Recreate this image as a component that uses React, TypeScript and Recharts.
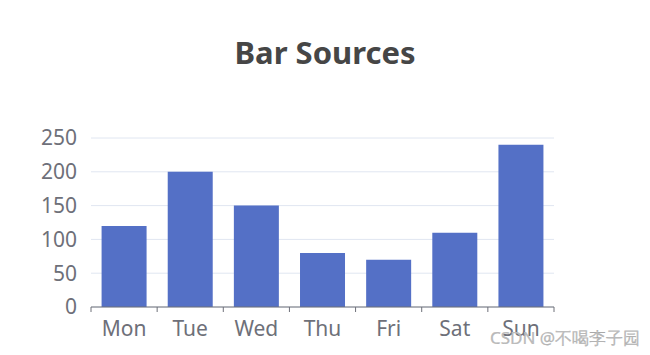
import React from 'react';
import { BarChart, Bar, XAxis, YAxis, CartesianGrid } from 'recharts';

const days = ['Mon', 'Tue', 'Wed', 'Thu', 'Fri', 'Sat', 'Sun'];
const sales = [120, 200, 150, 80, 70, 110, 240];
const yTicks = [0, 50, 100, 150, 200, 250];

const data = days.map((day, i) => ({ day, value: sales[i] }));

const W = 650;
const H = 355;
const margin = { top: 138, right: 96, bottom: 0, left: 0 };
const yAxisWidth = 91;
const plotWidth = W - margin.left - margin.right - yAxisWidth;
const band = plotWidth / days.length;
const axisColor = '#6e7079';
const font = '"Noto Sans", sans-serif';

// ticks sit on the category boundaries, like echarts
const BoundaryTick = (props: any) => {
  const { x, y, payload, index } = props;
  const axisY = y - 14;
  const left = x - band / 2;
  return (
    <g>
      <line x1={left} x2={left} y1={axisY} y2={axisY + 5} stroke={axisColor} />
      {index === days.length - 1 && (
        <line x1={x + band / 2} x2={x + band / 2} y1={axisY} y2={axisY + 5} stroke={axisColor} />
      )}
      <text x={x} y={y} dy="0.71em" textAnchor="middle" fill={axisColor} fontSize={21} fontFamily={font}>
        {payload.value}
      </text>
    </g>
  );
};

export default function App() {
  return (
    <div style={{ position: 'absolute', left: 0, top: 0, width: W, height: H, background: '#fff' }}>
      <div
        style={{
          position: 'absolute', left: 0, top: 32, width: W, textAlign: 'center',
          fontFamily: font, fontWeight: 700, fontSize: 31, color: '#464646', lineHeight: '40px',
        }}
      >
        Bar Sources
      </div>
      <BarChart width={W} height={H} data={data} margin={margin} barCategoryGap="16%">
        <CartesianGrid horizontal vertical={false} stroke="#e0e6f1" />
        <XAxis
          dataKey="day"
          height={48}
          axisLine={{ stroke: axisColor }}
          tickLine={false}
          tickSize={5}
          tickMargin={9}
          tick={<BoundaryTick />}
          interval={0}
        />
        <YAxis
          width={yAxisWidth}
          domain={[0, 250]}
          ticks={yTicks}
          axisLine={false}
          tickLine={false}
          tickMargin={8}
          tick={{ fill: axisColor, fontSize: 21, fontFamily: font }}
        />
        <Bar dataKey="value" fill="#5470c6" isAnimationActive={false} />
      </BarChart>
      <div
        style={{
          position: 'absolute', left: 490, top: 326, fontFamily: font, fontSize: 17,
          color: '#bdbdbd', WebkitTextStroke: '0.2px #999', whiteSpace: 'nowrap', lineHeight: '24px',
        }}
      >
        CSDN @不喝李子园
      </div>
    </div>
  );
}
